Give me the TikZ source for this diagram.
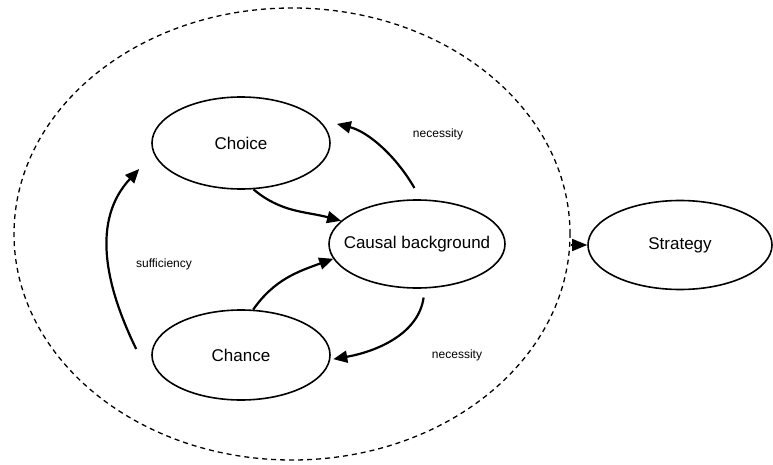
\documentclass[tikz,border=0pt]{standalone}
\usepackage{fontspec}
\setmainfont{Liberation Sans}
\usetikzlibrary{shapes.geometric,arrows.meta,calc}

\tikzset{
  stage/.style={ellipse, draw, line width=1.6pt, inner sep=0pt,
    font=\fontsize{17}{20}\selectfont},
  scopering/.style={ellipse, draw, dashed, line width=1.3pt,
    dash pattern=on 5pt off 4pt, inner sep=0pt},
  link/.style={line width=2.2pt, -{Triangle[length=14pt,width=12pt]}},
  tag/.style={font=\fontsize{12}{14}\selectfont, inner sep=0pt}
}

\begin{document}
\begin{tikzpicture}[x=1pt,y=1pt]
  \useasboundingbox (0,0) rectangle (773,464);

  % dashed boundary around the inner cycle
  \node[scopering, minimum width=556pt, minimum height=452pt] (boundary) at (292,230) {};

  % the four ellipses
  \node[stage, minimum width=178pt, minimum height=92pt] (choice)   at (241,321) {Choice};
  \node[stage, minimum width=176pt, minimum height=88pt, inner xsep=-13pt] (causal) at (417,220) {Causal background};
  \node[stage, minimum width=178pt, minimum height=90pt] (chance)   at (241,109) {Chance};
  \node[stage, minimum width=184pt, minimum height=89pt] (strategy) at (680,219) {Strategy};

  % free ends of the sufficiency arc
  \coordinate (suffFrom) at ($(chance.west)+(-15,6)$);
  \coordinate (suffTo)   at ($(choice.west)+(-12,-26)$);

  % connectors
  \draw[link] (choice.-75) to[out=-40,in=165] (causal.163);
  \draw[link] (chance.75) to[out=55,in=200] (causal.190);
  \draw[link, shorten <=13pt, shorten >=19pt] (causal.85) to[out=120,in=-14] (choice.17);
  \draw[link, shorten <=9pt, shorten >=3pt] (causal.-80) to[out=-98,in=10] (chance.-3);
  \draw[link] (suffFrom) to[out=116,in=-133] (suffTo);
  \draw[line width=1.6pt, -{Triangle[length=15pt,width=12pt]}]
    (strategy.west -| boundary.east) -- (strategy.west);

  % labels
  \node[tag] (necTop) at (438,330) {necessity};
  \node[tag] (suff)   at (164,200) {sufficiency};
  \node[tag] (necBot) at (457,109) {necessity};
\end{tikzpicture}
\end{document}
